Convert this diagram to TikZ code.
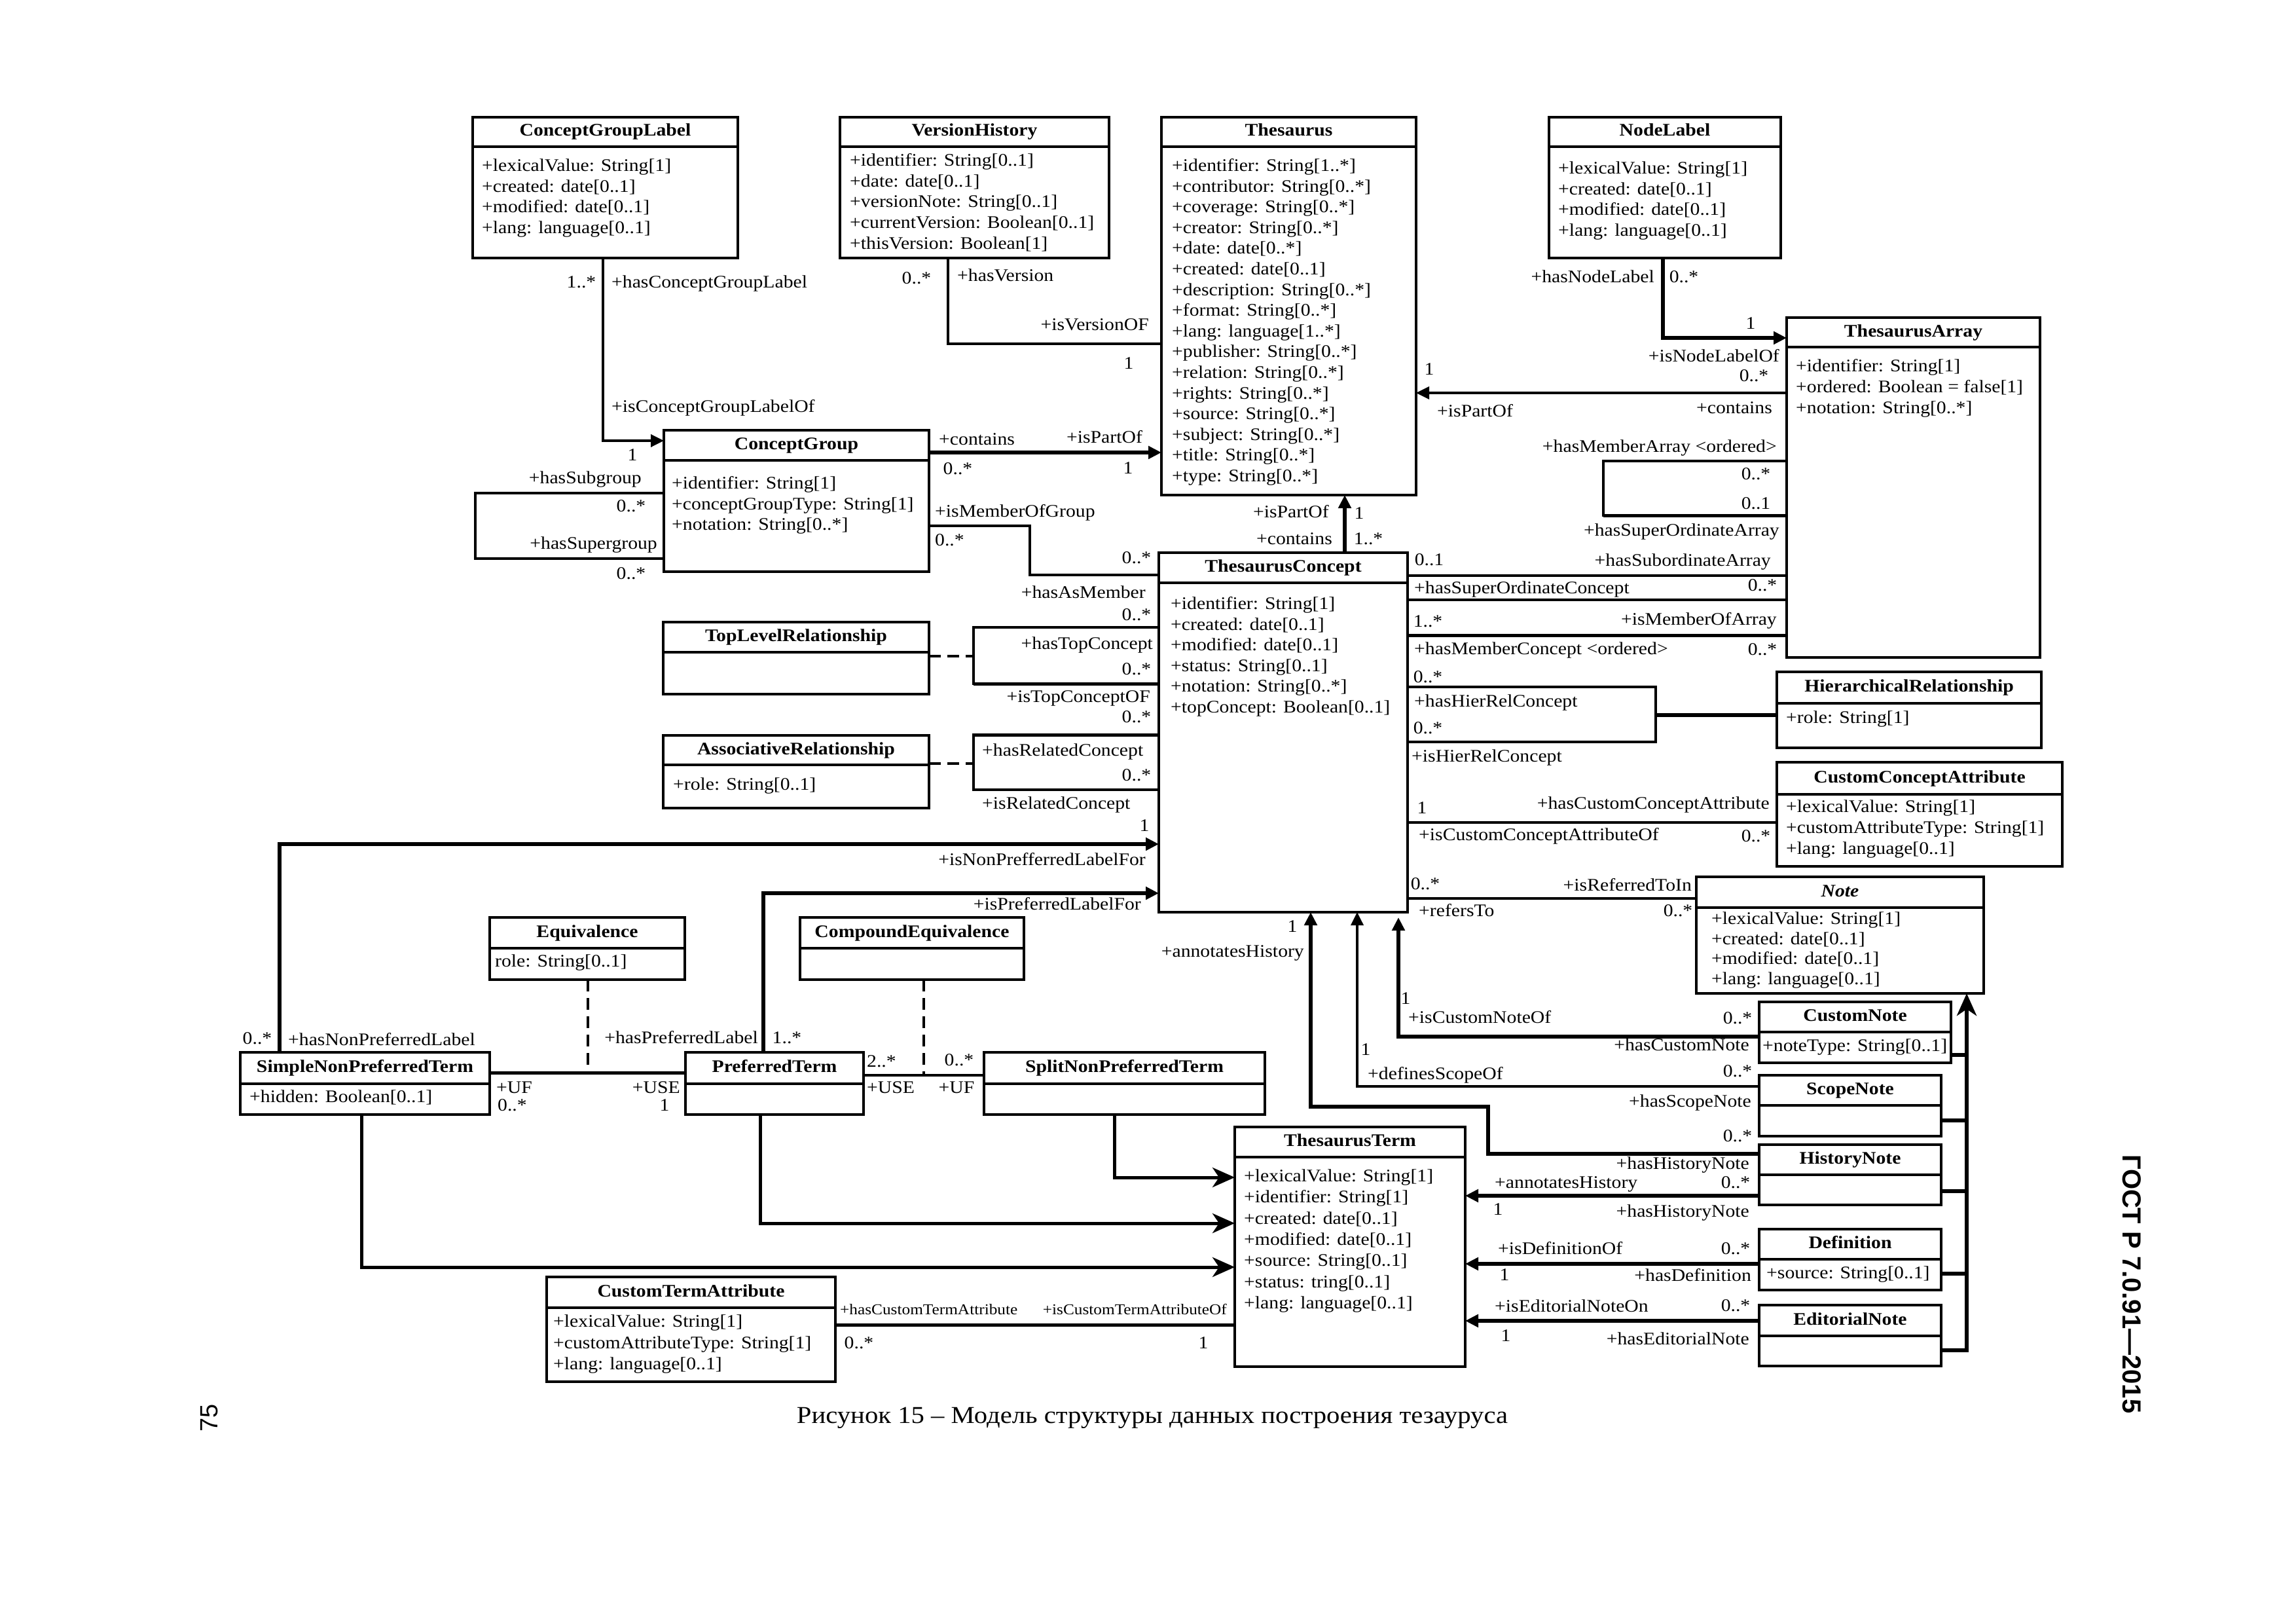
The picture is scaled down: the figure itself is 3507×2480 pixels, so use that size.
\documentclass[tikz,border=0pt]{standalone}
\usepackage{fontspec}
\setmainfont{Liberation Serif}[FakeStretch=1.1]
\newfontfamily\gostfont{Liberation Sans}
\usetikzlibrary{arrows.meta}
\newcommand\fsA{\fontsize{27}{32}\selectfont}
\newcommand\fsS{\fontsize{23}{28}\selectfont}
\tikzset{
  box/.style={draw, line width=4.5pt, outer sep=0pt, inner sep=0pt, anchor=north west, fill=white},
  boxl/.style={line width=4.5pt},
  lbl/.style={inner sep=0pt, text height=20pt, text depth=7pt, font=\fsA},
  sml/.style={inner sep=0pt, text height=17pt, text depth=6pt, font=\fsS},
  ttl/.style={inner sep=0pt, text height=20pt, text depth=7pt, font=\fsA\bfseries},
  cthin/.style={line width=3.5pt},
  cmid/.style={line width=5pt},
  cthick/.style={line width=6.5pt},
  arr/.style={-{Triangle[length=20pt,width=19pt]}},
  garr/.style={-{Stealth[length=34pt,width=30pt,inset=10pt]}},
  dsh/.style={line width=3.5pt, dash pattern=on 18pt off 10pt},
}
\newcommand\umlbox[7]{%
  \node[box, minimum width={#4-#2}, minimum height={#5-#3}] (#1) at (#2,#3) {};
  \draw[boxl] (#2,#6) -- (#4,#6);
  \node[ttl] at ({(#2+#4)/2},{(#3+#6)/2}) {#7};
}
\newcommand\attrs[4]{%
  \foreach \tx [count=\i from 0] in {#4} {\node[lbl,anchor=west] at (#1,{#2+\i*#3}) {\tx};}
}
\newcommand\labW[3]{\node[lbl,anchor=west] at (#1,#2) {#3};}
\newcommand\labE[3]{\node[lbl,anchor=east] at (#1,#2) {#3};}
\newcommand\labC[3]{\node[lbl] at (#1,#2) {#3};}
\newcommand\smW[3]{\node[sml,anchor=west] at (#1,#2) {#3};}
\newcommand\smE[3]{\node[sml,anchor=east] at (#1,#2) {#3};}

\begin{document}
\begin{tikzpicture}[x=1pt,y=-1pt]
\fill[white] (0,0) rectangle (3507,2480);
\useasboundingbox (0,0) rectangle (3507,2480);

% ---------- classes ----------
\umlbox{CGL}{722}{179}{1127}{394}{224}{ConceptGroupLabel}
\attrs{736}{255}{31.7}{+lexicalValue: String[1],+created: date[0..1],+modified: date[0..1],+lang: language[0..1]}
\umlbox{VH}{1283}{179}{1694}{394}{224}{VersionHistory}
\attrs{1298}{247}{31.7}{+identifier: String[0..1],+date: date[0..1],+versionNote: String[0..1],+currentVersion: Boolean[0..1],+thisVersion: Boolean[1]}
\umlbox{TH}{1774}{179}{2163}{756}{224}{Thesaurus}
\attrs{1790}{255}{31.6}{+identifier: String[1..*],+contributor: String[0..*],+coverage: String[0..*],+creator: String[0..*],+date: date[0..*],+created: date[0..1],+description: String[0..*],+format: String[0..*],+lang: language[1..*],+publisher: String[0..*],+relation: String[0..*],+rights: String[0..*],+source: String[0..*],+subject: String[0..*],+title: String[0..*],+type: String[0..*]}
\umlbox{NL}{2366}{179}{2720}{394}{224}{NodeLabel}
\attrs{2380}{259}{31.7}{+lexicalValue: String[1],+created: date[0..1],+modified: date[0..1],+lang: language[0..1]}
\umlbox{TA}{2729}{485}{3116}{1004}{530}{ThesaurusArray}
\attrs{2743}{561}{32}{+identifier: String[1],+ordered: Boolean = false[1],+notation: String[0..*]}
\umlbox{CG}{1014}{657}{1419}{873}{703}{ConceptGroup}
\attrs{1026}{740}{31.7}{+identifier: String[1],+conceptGroupType: String[1],+notation: String[0..*]}
\umlbox{TC}{1770}{844}{2150}{1393}{890}{ThesaurusConcept}
\attrs{1788}{924}{31.6}{+identifier: String[1],+created: date[0..1],+modified: date[0..1],+status: String[0..1],+notation: String[0..*],+topConcept: Boolean[0..1]}
\umlbox{TLR}{1013}{950}{1419}{1060}{996}{TopLevelRelationship}
\umlbox{AR}{1013}{1123}{1419}{1234}{1168}{AssociativeRelationship}
\attrs{1028}{1200}{32}{+role: String[0..1]}
\umlbox{HR}{2714}{1026}{3118}{1142}{1074}{HierarchicalRelationship}
\attrs{2728}{1098}{32}{+role: String[1]}
\umlbox{CCA}{2714}{1164}{3150}{1323}{1213}{CustomConceptAttribute}
\attrs{2728}{1234}{32}{+lexicalValue: String[1],+customAttributeType: String[1],+lang: language[0..1]}
\umlbox{NOTE}{2591}{1339}{3030}{1517}{1386}{\textit{Note}}
\attrs{2614}{1405}{30.5}{+lexicalValue: String[1],+created: date[0..1],+modified: date[0..1],+lang: language[0..1]}
\umlbox{CN}{2687}{1530}{2980}{1623}{1576}{CustomNote}
\attrs{2692}{1599}{32}{+noteType: String[0..1]}
\umlbox{SN}{2687}{1642}{2965}{1735}{1688}{ScopeNote}
\umlbox{HN}{2687}{1748}{2965}{1840}{1794}{HistoryNote}
\umlbox{DEF}{2687}{1877}{2965}{1970}{1923}{Definition}
\attrs{2698}{1946}{32}{+source: String[0..1]}
\umlbox{EN}{2687}{1993}{2965}{2086}{2040}{EditorialNote}
\umlbox{TT}{1886}{1721}{2238}{2087}{1767}{ThesaurusTerm}
\attrs{1900}{1798}{32.3}{+lexicalValue: String[1],+identifier: String[1],+created: date[0..1],+modified: date[0..1],+source: String[0..1],+status: tring[0..1],+lang: language[0..1]}
\umlbox{CTA}{835}{1950}{1276}{2110}{1997}{CustomTermAttribute}
\attrs{845}{2020}{32.5}{+lexicalValue: String[1],+customAttributeType: String[1],+lang: language[0..1]}
\umlbox{SNPT}{367}{1607}{748}{1702}{1655}{SimpleNonPreferredTerm}
\attrs{381}{1677}{32}{+hidden: Boolean[0..1]}
\umlbox{PT}{1047}{1607}{1319}{1702}{1655}{PreferredTerm}
\umlbox{SPNT}{1503}{1607}{1932}{1702}{1655}{SplitNonPreferredTerm}
\umlbox{EQ}{748}{1401}{1046}{1496}{1448}{Equivalence}
\attrs{756}{1470}{32}{role: String[0..1]}
\umlbox{CEQ}{1222}{1401}{1564}{1496}{1448}{CompoundEquivalence}

% ---------- connectors ----------
% ConceptGroupLabel - ConceptGroup
\draw[cthin,arr] (CGL.south -| 921,0) |- (CG.west |- 0,673);
\labC{888}{433}{1..*}
\labW{934}{433}{+hasConceptGroupLabel}
\labW{934}{623}{+isConceptGroupLabelOf}
\labC{966}{697}{1}
% VersionHistory - Thesaurus
\draw[cthin] (VH.south -| 1448,0) |- (TH.west |- 0,525);
\labC{1400}{427}{0..*}
\labW{1462}{423}{+hasVersion}
\labE{1755}{498}{+isVersionOF}
\labC{1724}{557}{1}
% ConceptGroup - Thesaurus
\draw[cthick,arr] (CG.east |- 0,691) -- (TH.west |- 0,691);
\labW{1434}{673}{+contains}
\labC{1687}{670}{+isPartOf}
\labC{1463}{718}{0..*}
\labC{1723}{717}{1}
% ConceptGroup self loop
\draw[cthin] (CG.west |- 0,753) -- (726,753) -- (726,853) -- (CG.west |- 0,853);
\labE{980}{732}{+hasSubgroup}
\labC{964}{775}{0..*}
\labE{1004}{832}{+hasSupergroup}
\labC{964}{878}{0..*}
% ConceptGroup - ThesaurusConcept
\draw[cthin] (CG.east |- 0,803) -- (1573,803) -- (1573,878) -- (TC.west |- 0,878);
\labW{1428}{783}{+isMemberOfGroup}
\labW{1428}{827}{0..*}
\labC{1736}{854}{0..*}
\labE{1750}{907}{+hasAsMember}
% ThesaurusConcept - Thesaurus
\draw[cthick,arr] (TC.north -| 2054,0) -- (TH.south -| 2054,0);
\labE{2030}{784}{+isPartOf}
\labC{2076}{786}{1}
\labE{2035}{825}{+contains}
\labC{2090}{825}{1..*}
% NodeLabel - ThesaurusArray
\draw[cthick,arr] (NL.south -| 2540,0) |- (TA.west |- 0,516);
\labE{2527}{425}{+hasNodeLabel}
\labC{2572}{425}{0..*}
\labC{2674}{496}{1}
\labE{2718}{546}{+isNodeLabelOf}
\labC{2679}{576}{0..*}
% ThesaurusArray - Thesaurus
\draw[cthin,arr] (TA.west |- 0,600) -- (TH.east |- 0,600);
\labC{2183}{566}{1}
\labW{2195}{630}{+isPartOf}
\labE{2707}{625}{+contains}
% ThesaurusArray self loop
\draw[cthin] (TA.west |- 0,704) -- (2449,704) -- (2449,787) -- (TA.west |- 0,787);
\draw[cmid] (2449,787) -- (TA.west |- 0,787);
\labE{2714}{684}{+hasMemberArray <ordered>}
\labC{2682}{726}{0..*}
\labC{2682}{771}{0..1}
\labE{2718}{812}{+hasSuperOrdinateArray}
% ThesaurusConcept - ThesaurusArray
\draw[cthin] (TC.east |- 0,879) -- (TA.west |- 0,879);
\labC{2183}{857}{0..1}
\labE{2705}{858}{+hasSubordinateArray}
\labW{2160}{900}{+hasSuperOrdinateConcept}
\labC{2692}{896}{0..*}
\draw[cthin] (TC.east |- 0,916) -- (TA.west |- 0,916);
\labC{2181}{951}{1..*}
\labE{2714}{948}{+isMemberOfArray}
\draw[cmid] (TC.east |- 0,970) -- (TA.west |- 0,970);
\labW{2160}{993}{+hasMemberConcept <ordered>}
\labC{2692}{994}{0..*}
% hierarchical loop
\draw[cthin] (TC.east |- 0,1049) -- (2529,1049) -- (2529,1133) -- (TC.east |- 0,1133);
\coordinate (hrj) at (2529,1092);
\draw[cthick] (hrj) -- (HR.west |- 0,1092);
\labC{2181}{1036}{0..*}
\labW{2160}{1073}{+hasHierRelConcept}
\labC{2181}{1114}{0..*}
\labW{2156}{1157}{+isHierRelConcept}
% custom concept attribute
\draw[cthin] (TC.east |- 0,1256) -- (CCA.west |- 0,1256);
\labC{2172}{1236}{1}
\labE{2703}{1229}{+hasCustomConceptAttribute}
\labW{2167}{1277}{+isCustomConceptAttributeOf}
\labC{2682}{1279}{0..*}
% note
\draw[cthin] (TC.east |- 0,1372) -- (NOTE.west |- 0,1372);
\labC{2177}{1352}{0..*}
\labE{2584}{1354}{+isReferredToIn}
\labW{2167}{1393}{+refersTo}
\labC{2563}{1393}{0..*}
% top-level and related loops
\draw[cthin] (TC.west |- 0,958) -- (1487,958) -- (1487,1044) -- (TC.west |- 0,1044);
\draw[cmid] (1487,1044) -- (TC.west |- 0,1044);
\draw[dsh] (TLR.east |- 0,1002) -- (1487,1002);
\draw[cthin] (TC.west |- 0,1122) -- (1487,1122) -- (1487,1206) -- (TC.west |- 0,1206);
\draw[cmid] (1487,1122) -- (TC.west |- 0,1122);
\draw[dsh] (AR.east |- 0,1166) -- (1487,1166);
\labC{1736}{941}{0..*}
\labE{1761}{985}{+hasTopConcept}
\labC{1736}{1024}{0..*}
\labE{1757}{1066}{+isTopConceptOF}
\labC{1736}{1097}{0..*}
\labW{1500}{1148}{+hasRelatedConcept}
\labC{1736}{1186}{0..*}
\labW{1500}{1229}{+isRelatedConcept}
% terms to concept
\draw[cthick,arr] (SNPT.north -| 427,0) |- (TC.west |- 0,1289);
\labC{393}{1588}{0..*}
\labW{440}{1590}{+hasNonPreferredLabel}
\labC{1748}{1263}{1}
\labE{1750}{1315}{+isNonPrefferredLabelFor}
\draw[cthick,arr] (PT.north -| 1166,0) |- (TC.west |- 0,1364);
\labE{1743}{1383}{+isPreferredLabelFor}
\labC{1202}{1587}{1..*}
\labE{1158}{1587}{+hasPreferredLabel}
% equivalences
\draw[cmid] (SNPT.east |- 0,1638) -- (PT.west |- 0,1638);
\draw[dsh] (EQ.south -| 898,0) -- (898,1638);
\labW{758}{1663}{+UF}
\labW{760}{1690}{0..*}
\labE{1039}{1663}{+USE}
\labC{1015}{1690}{1}
\draw[cthin] (PT.east |- 0,1642) -- (SPNT.west |- 0,1642);
\draw[dsh] (CEQ.south -| 1411,0) -- (1411,1642);
\labW{1324}{1623}{2..*}
\labC{1465}{1621}{0..*}
\labW{1324}{1663}{+USE}
\labC{1461}{1663}{+UF}
% generalisations to ThesaurusTerm
\draw[cmid,garr] (SPNT.south -| 1702,0) |- (TT.west |- 0,1798);
\draw[cmid,garr] (PT.south -| 1161,0) |- (TT.west |- 0,1868);
\draw[cmid,garr] (SNPT.south -| 552,0) |- (TT.west |- 0,1935);
% custom term attribute
\draw[cmid] (CTA.east |- 0,2023) -- (TT.west |- 0,2023);
\smW{1283}{2002}{+hasCustomTermAttribute}
\smE{1874}{2002}{+isCustomTermAttributeOf}
\labC{1312}{2053}{0..*}
\labC{1838}{2053}{1}
% notes to ThesaurusConcept
\draw[cthick,arr] (HN.west |- 0,1762) -- (2273,1762) -- (2273,1690) -- (2002,1690) -- (TC.south -| 2002,0);
\labC{1974}{1417}{1}
\labE{1992}{1455}{+annotatesHistory}
\labC{2654}{1737}{0..*}
\labE{2672}{1779}{+hasHistoryNote}
\draw[cthin,arr] (SN.west |- 0,1659) -- (2073,1659) -- (TC.south -| 2073,0);
\labC{2086}{1605}{1}
\labW{2089}{1642}{+definesScopeOf}
\labC{2654}{1638}{0..*}
\labE{2675}{1684}{+hasScopeNote}
\draw[cthick,arr,shorten >=8pt] (CN.west |- 0,1583) -- (2136,1583) -- (TC.south -| 2136,0);
\labC{2147}{1527}{1}
\labW{2151}{1556}{+isCustomNoteOf}
\labC{2654}{1557}{0..*}
\labE{2672}{1598}{+hasCustomNote}
% notes to ThesaurusTerm
\draw[cthick,arr] (HN.west |- 0,1826) -- (TT.east |- 0,1826);
\labW{2283}{1808}{+annotatesHistory}
\labC{2651}{1808}{0..*}
\labC{2288}{1849}{1}
\labE{2672}{1852}{+hasHistoryNote}
\draw[cthick,arr] (DEF.west |- 0,1930) -- (TT.east |- 0,1930);
\labW{2288}{1909}{+isDefinitionOf}
\labC{2651}{1909}{0..*}
\labC{2298}{1949}{1}
\labE{2675}{1950}{+hasDefinition}
\draw[cthick,arr] (EN.west |- 0,2017) -- (TT.east |- 0,2017);
\labW{2283}{1997}{+isEditorialNoteOn}
\labC{2651}{1996}{0..*}
\labC{2300}{2042}{1}
\labE{2672}{2047}{+hasEditorialNote}
% note generalisation
\draw[cthick,garr] (EN.east |- 0,2062) -- (3004,2062) -- (NOTE.south -| 3004,0);
\draw[cthick] (CN.east |- 0,1611) -- (3004,1611);
\draw[cthick] (SN.east |- 0,1711) -- (3004,1711);
\draw[cthick] (HN.east |- 0,1819) -- (3004,1819);
\draw[cthick] (DEF.east |- 0,1945) -- (3004,1945);

% ---------- page texts ----------
\node[inner sep=0pt, font=\fontsize{37}{44}\selectfont] (cap) at (1760,2165) {Рисунок 15 – Модель структуры данных построения тезауруса};
\node[inner sep=0pt, rotate=90, font=\gostfont\fontsize{38}{44}\selectfont] (pg) at (320,2165) {75};
\node[inner sep=0pt, rotate=-90, font=\gostfont\bfseries\fontsize{40}{46}\selectfont] (gost) at (3256,1961) {ГОСТ Р 7.0.91—2015};
\end{tikzpicture}
\end{document}
